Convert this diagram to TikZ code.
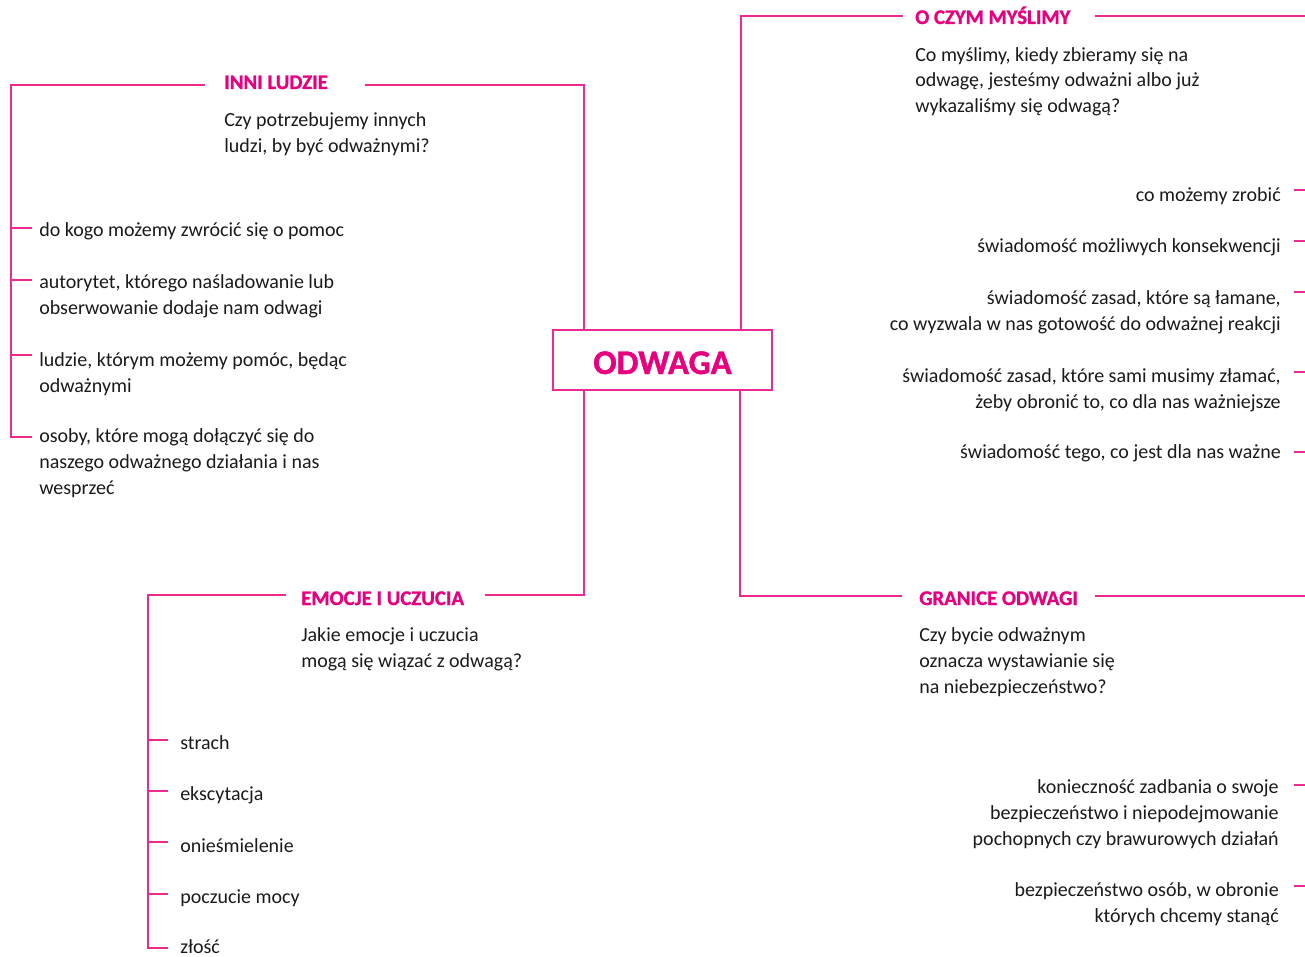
\documentclass[tikz,border=0pt]{standalone}
\usepackage{fontspec}
\setmainfont{Carlito}
\newfontfamily\headfont{Carlito}[BoldFeatures={FakeBold=1.2}]
\definecolor{mag}{HTML}{E6007E}
\definecolor{lin}{HTML}{EE2A92}
\definecolor{txt}{HTML}{1A1A1A}
\newcommand{\mlines}[2]{\begin{tabular}[t]{@{}#1@{}}#2\end{tabular}}
\begin{document}
\begin{tikzpicture}[x=0.75pt,y=-0.75pt,
  conn/.style={draw=lin,line width=1.5pt,line join=miter},
  body/.style={font=\fontsize{15}{19.5}\selectfont,text=txt,inner sep=0pt},
  bodyl/.style={body,anchor=base west},
  bodyr/.style={body,anchor=base east},
  head/.style={font=\fontsize{15.6}{19.5}\headfont\bfseries,text=mag,inner sep=0pt,anchor=base west},
  centerbox/.style={draw=lin,line width=1.5pt,minimum width=164.25pt,minimum height=45pt,inner sep=0pt,
    text height=21pt,text depth=0pt,
    font=\fontsize{26}{30}\headfont\bfseries,text=mag}]
\useasboundingbox (0,0) rectangle (1305,956);

% centre
\node[centerbox] (c) at (662.5,360) {ODWAGA};

% corner coordinates
\coordinate (a1) at (584,85);
\coordinate (b1) at (741,16);
\coordinate (d1) at (584,595);
\coordinate (e1) at (740,596);

% INNI LUDZIE
\node[head] (h1) at (224,89) {INNI LUDZIE};
\node[bodyl] (q1) at (224,126) {\mlines{l}{Czy potrzebujemy innych\\ludzi, by być odważnymi?}};
\draw[conn] (c.north -| a1) -- (a1) -- (365,85);
\draw[conn] (205,85) -- (11,85) -- (11,437) -- (32,437);
\foreach \y in {228,280,355} \draw[conn] (11,\y) -- (32,\y);
\node[bodyl] (l1) at (39,236) {\mlines{l}{do kogo możemy zwrócić się o pomoc}};
\node[bodyl] (l2) at (39,288) {\mlines{l}{autorytet, którego naśladowanie lub\\obserwowanie dodaje nam odwagi}};
\node[bodyl] (l3) at (39,366) {\mlines{l}{ludzie, którym możemy pomóc, będąc\\odważnymi}};
\node[bodyl] (l4) at (39,442) {\mlines{l}{osoby, które mogą dołączyć się do\\naszego odważnego działania i nas\\wesprzeć}};

% O CZYM MYSLIMY
\node[head] (h2) at (915,24) {O CZYM MYŚLIMY};
\node[bodyl] (q2) at (915,61) {\mlines{l}{Co myślimy, kiedy zbieramy się na\\odwagę, jesteśmy odważni albo już\\wykazaliśmy się odwagą?}};
\draw[conn] (c.north -| b1) -- (b1) -- (903,16);
\draw[conn] (1095,16) -- (1305,16);
\foreach \y in {190,241,292,372,452} \draw[conn] (1294,\y) -- (1305,\y);
\node[bodyr] (r1) at (1281,201) {\mlines{r}{co możemy zrobić}};
\node[bodyr] (r2) at (1281,252) {\mlines{r}{świadomość możliwych konsekwencji}};
\node[bodyr] (r3) at (1281,304) {\mlines{r}{świadomość zasad, które są łamane,\\co wyzwala w nas gotowość do odważnej reakcji}};
\node[bodyr] (r4) at (1281,382) {\mlines{r}{świadomość zasad, które sami musimy złamać,\\żeby obronić to, co dla nas ważniejsze}};
\node[bodyr] (r5) at (1281,458) {\mlines{r}{świadomość tego, co jest dla nas ważne}};

% EMOCJE I UCZUCIA
\node[head] (h3) at (301,605) {EMOCJE I UCZUCIA};
\node[bodyl] (q3) at (301,641) {\mlines{l}{Jakie emocje i uczucia\\mogą się wiązać z odwagą?}};
\draw[conn] (c.south -| d1) -- (d1) -- (485,595);
\draw[conn] (286,595) -- (148,595) -- (148,948) -- (168,948);
\foreach \y in {740,791,842,894} \draw[conn] (148,\y) -- (168,\y);
\node[bodyl] (e1n) at (180,749) {strach};
\node[bodyl] (e2n) at (180,800) {ekscytacja};
\node[bodyl] (e3n) at (180,852) {onieśmielenie};
\node[bodyl] (e4n) at (180,903) {poczucie mocy};
\node[bodyl] (e5n) at (180,953) {złość};

% GRANICE ODWAGI
\node[head] (h4) at (919,605) {GRANICE ODWAGI};
\node[bodyl] (q4) at (919,641) {\mlines{l}{Czy bycie odważnym\\oznacza wystawianie się\\na niebezpieczeństwo?}};
\draw[conn] (c.south -| e1) -- (e1) -- (902,596);
\draw[conn] (1095,596) -- (1305,596);
\foreach \y in {785,886} \draw[conn] (1294,\y) -- (1305,\y);
\node[bodyr] (g1) at (1279,793) {\mlines{r}{konieczność zadbania o swoje\\bezpieczeństwo i niepodejmowanie\\pochopnych czy brawurowych działań}};
\node[bodyr] (g2) at (1279,896) {\mlines{r}{bezpieczeństwo osób, w obronie\\których chcemy stanąć}};
\end{tikzpicture}
\end{document}
